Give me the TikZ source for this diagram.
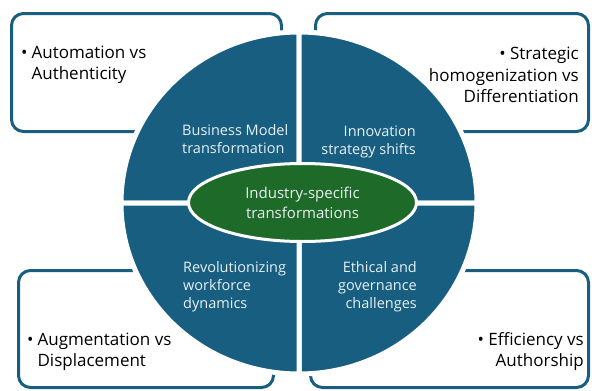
\documentclass[tikz,border=0pt]{standalone}
\usepackage{fontspec}
\setmainfont{Open Sans}
\usetikzlibrary{shapes.geometric}
\definecolor{petrol}{RGB}{23,94,128}
\definecolor{leaf}{RGB}{30,106,40}
\definecolor{paletext}{RGB}{232,240,244}

\begin{document}
\begin{tikzpicture}[x=1pt, y=-1pt,
  box/.style = {draw=petrol, line width=3pt, rounded corners=12pt, fill=white, inner sep=0pt},
  slice/.style = {fill=petrol, draw=white, line width=5pt},
  hub/.style = {ellipse, fill=leaf, draw=white, line width=3pt, minimum width=228pt, minimum height=78pt, inner sep=0pt},
  big/.style = {font=\fontsize{17}{21.5}\selectfont, text=black, inner sep=0pt},
  small/.style = {font=\fontsize{14.5}{18}\selectfont, text=paletext, inner sep=0pt}]
\useasboundingbox (0,0) rectangle (592,391);
\node[box, minimum width=270pt, minimum height=118pt] (tlbox) at (146.5,72.5) {};
\node[box, minimum width=273pt, minimum height=118pt] (trbox) at (452,72.5) {};
\node[box, minimum width=255pt, minimum height=117pt] (blbox) at (146,329) {};
\node[box, minimum width=278pt, minimum height=117pt] (brbox) at (449.5,329) {};
\coordinate (mid) at (299,203);
\path[slice] (mid) -- ++(-178pt,0pt) arc[start angle=180, end angle=90, x radius=178pt, y radius=171pt] -- cycle;
\path[slice] (mid) -- ++(0pt,171pt) arc[start angle=90, end angle=0, x radius=178pt, y radius=171pt] -- cycle;
\path[slice] (mid) -- ++(178pt,0pt) arc[start angle=0, end angle=-90, x radius=178pt, y radius=171pt] -- cycle;
\path[slice] (mid) -- ++(0pt,-171pt) arc[start angle=-90, end angle=-180, x radius=178pt, y radius=171pt] -- cycle;
\node[hub, small, font=\fontsize{15}{20}\selectfont, align=center] (core) at (302.5,202.5) {Industry-specific\\transformations};
\node[small, anchor=west, align=left] (bizmodel) at (182,139) {Business Model\\transformation};
\node[small, anchor=east, align=right] (innov) at (416,142) {Innovation\\strategy shifts};
\node[small, anchor=west, align=left] (workforce) at (183,286.5) {Revolutionizing\\workforce\\dynamics};
\node[small, anchor=east, align=right] (ethics) at (417,287) {Ethical and\\governance\\challenges};
\node[big, anchor=west] (automation) at (21,64.5) {\begin{tabular}{@{}l@{\hspace{4pt}}l@{}}\textbullet & Automation vs\\ & Authenticity\end{tabular}};
\node[big, anchor=east, align=right] (strategic) at (579,75) {\textbullet\ Strategic\\homogenization vs\\Differentiation};
\node[big, anchor=west] (augment) at (27,351.5) {\begin{tabular}{@{}l@{\hspace{4pt}}l@{}}\textbullet & Augmentation vs\\ & Displacement\end{tabular}};
\node[big, anchor=east, align=right] (efficiency) at (584,351.5) {\textbullet\ Efficiency vs\\Authorship};
\end{tikzpicture}
\end{document}
